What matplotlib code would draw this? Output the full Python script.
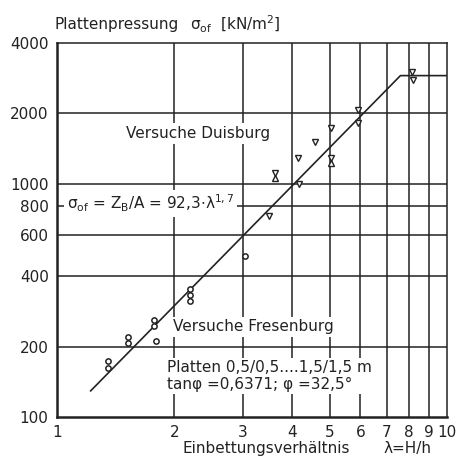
import matplotlib
matplotlib.use('Agg')
import matplotlib.pyplot as plt
import numpy as np

# Versuche Fresenburg (circles)
fres_lam = [1.35, 1.35, 1.52, 1.52, 1.77, 1.77, 1.79, 2.19, 2.19, 2.19, 3.03]
fres_sig = [174, 162, 220, 207, 260, 245, 212, 354, 333, 314, 490]

# Versuche Duisburg (triangles)
duis_lam = [3.50, 3.62, 4.17, 4.15, 4.58, 5.04, 5.04, 5.90, 5.93, 8.15, 8.18]
duis_sig = [725, 1108, 1000, 1290, 1508, 1730, 1290, 2070, 1815, 3000, 2780]
# second triangle of the hourglass-shaped marks
duis_up_lam = [3.62, 5.04]
duis_up_sig = [1060, 1220]

coef = 92.3
expo = 1.7
lam_start = 1.22
sig_cap = 2900

xticks = [1, 2, 3, 4, 5, 6, 7, 8, 9, 10]
yticks = [100, 200, 400, 600, 800, 1000, 2000, 4000]

ink = '#222222'
plt.rcParams['font.family'] = ['DejaVu Sans']
plt.rcParams['mathtext.default'] = 'regular'

fig = plt.figure(figsize=(4.57, 4.65), dpi=100)
ax = fig.add_axes([0.1247, 0.1032, 0.8533, 0.8043])
ax.set_xscale('log')
ax.set_yscale('log')
ax.set_xlim(1, 10)
ax.set_ylim(100, 4000)

# grid
for x in xticks[1:-1]:
    ax.axvline(x, color=ink, lw=1.1, zorder=1)
for y in yticks[1:-1]:
    ax.axhline(y, color=ink, lw=1.1, zorder=1)

ax.set_xticks(xticks)
ax.set_xticklabels([str(v) for v in xticks])
ax.set_yticks(yticks)
ax.set_yticklabels([str(v) for v in yticks])
ax.minorticks_off()
ax.tick_params(length=0, labelsize=11, colors=ink, pad=6)
for s in ['left', 'bottom']:
    ax.spines[s].set_linewidth(1.8)
for s in ['top', 'right']:
    ax.spines[s].set_linewidth(1.1)
for s in ax.spines.values():
    s.set_color(ink)

# regression line with cap
lam_cap = (sig_cap / coef) ** (1 / expo)
lam_line = np.array([lam_start, lam_cap, 10])
sig_line = np.minimum(coef * lam_line ** expo, sig_cap)
ax.plot(lam_line, sig_line, color=ink, lw=1.2, zorder=3)

ax.plot(fres_lam, fres_sig, 'o', ms=3.8, mfc='white', mec=ink, mew=1.1, zorder=4)
ax.plot(duis_lam, duis_sig, 'v', ms=5, mfc='white', mec=ink, mew=1.0, zorder=4)
ax.plot(duis_up_lam, duis_up_sig, '^', ms=5, mfc='white', mec=ink, mew=1.0, zorder=4)

box = dict(facecolor='white', edgecolor='none', pad=2)
ax.text(1.5, 1640, 'Versuche Duisburg', fontsize=11, color=ink, bbox=box,
        zorder=5, va='center')
ax.text(1.06, 820, r'$\sigma_{of}$ = Z$_B$/A = 92,3$\cdot\lambda^{1,7}$', fontsize=11,
        color=ink, bbox=box, zorder=5, va='center')
ax.text(1.98, 243, 'Versuche Fresenburg', fontsize=11, color=ink, bbox=box,
        zorder=5, va='center')
ax.text(1.92, 150, 'Platten 0,5/0,5....1,5/1,5 m\ntan\u03c6 =0,6371; \u03c6 =32,5\u00b0',
        fontsize=11, color=ink, bbox=box, zorder=5, va='center', linespacing=1.1)

fig.text(0.12, 0.948, 'Plattenpressung', fontsize=11, color=ink, va='center')
fig.text(0.415, 0.948, r'$\sigma_{of}$  [kN/m$^2$]', fontsize=11, color=ink, va='center')
fig.text(0.40, 0.035, 'Einbettungsverhältnis', fontsize=11, color=ink, va='center')
fig.text(0.84, 0.035, '\u03bb=H/h', fontsize=11, color=ink, va='center')

fig.savefig('out.png', dpi=100)
